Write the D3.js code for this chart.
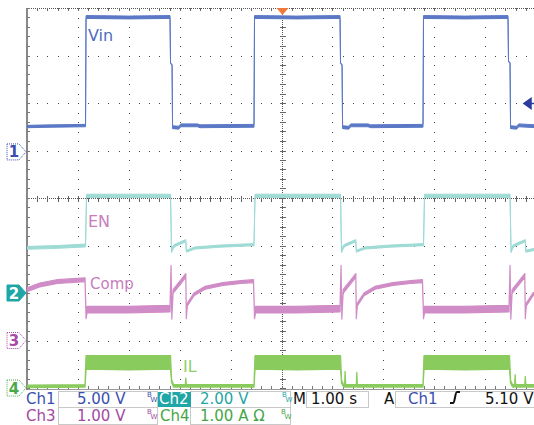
<!DOCTYPE html>
<html>
<head>
<meta charset="utf-8">
<script src="https://cdn.jsdelivr.net/npm/d3@7"></script>
<style>
body { margin: 0; background: #fff; }
svg { display: block; font-family: "DejaVu Sans", Verdana, sans-serif; }
</style>
</head>
<body>
<div id="scope"></div>
<script>
// channel setup: volts/div and ground offset (divisions from centre)
const channelNames = ["Ch1", "Ch2", "Ch3", "Ch4"];
const voltsPerDiv = [5, 2, 1, 1];
const groundDiv = [0.97, -2, -3, -4];
const traceNames = ["Vin", "EN", "Comp", "IL"];

// traces: [time s, low, high] (noise band)
const vinTrace = [
    [0.00, 2.55, 2.80], [0.50, 2.60, 2.85], [1.15, 2.65, 2.90], [1.16, 14.05, 14.35],
    [2.00, 14.00, 14.30], [2.81, 14.05, 14.35], [2.82, 9.30, 9.40], [2.85, 9.10, 9.20],
    [2.86, 2.45, 2.75], [2.98, 2.40, 2.70], [3.02, 2.65, 2.95], [3.35, 2.65, 2.95],
    [3.40, 2.55, 2.85], [4.46, 2.60, 2.90], [4.47, 14.05, 14.35], [5.30, 14.00, 14.30],
    [6.15, 14.05, 14.35], [6.16, 9.30, 9.40], [6.19, 9.10, 9.20], [6.20, 2.45, 2.75],
    [6.32, 2.40, 2.70], [6.36, 2.65, 2.95], [6.70, 2.65, 2.95], [6.75, 2.55, 2.85],
    [7.78, 2.60, 2.90], [7.79, 14.05, 14.35], [8.60, 14.00, 14.30], [9.45, 14.05, 14.35],
    [9.46, 9.50, 9.60], [9.49, 9.30, 9.40], [9.50, 2.45, 2.75], [9.62, 2.40, 2.70],
    [9.66, 2.65, 2.95], [10.00, 2.55, 2.85]
];
const enTrace = [
    [0.00, 1.84, 1.96], [0.60, 1.88, 2.00], [1.15, 1.94, 2.06], [1.17, 4.02, 4.16],
    [2.82, 4.02, 4.16], [2.84, 1.70, 1.76], [2.87, 1.86, 2.00], [2.90, 1.95, 2.05],
    [3.12, 2.16, 2.25], [3.13, 1.72, 1.80], [3.30, 1.85, 1.94], [3.80, 1.93, 2.02],
    [4.46, 1.99, 2.08], [4.48, 4.02, 4.16], [6.16, 4.02, 4.16], [6.18, 1.70, 1.76],
    [6.21, 1.86, 2.00], [6.24, 1.95, 2.05], [6.46, 2.16, 2.25], [6.47, 1.72, 1.80],
    [6.64, 1.85, 1.94], [7.14, 1.93, 2.02], [7.79, 1.99, 2.08], [7.81, 4.02, 4.16],
    [9.49, 4.02, 4.16], [9.51, 1.70, 1.76], [9.54, 1.86, 2.00], [9.57, 1.95, 2.05],
    [9.79, 2.16, 2.25], [9.80, 1.72, 1.80], [10.00, 1.80, 1.90]
];
const compTrace = [
    [0.00, 1.03, 1.11], [0.25, 1.13, 1.21], [0.60, 1.20, 1.28], [1.14, 1.24, 1.32],
    [1.16, 0.46, 0.54], [1.18, 0.58, 0.72], [2.00, 0.58, 0.72], [2.81, 0.60, 0.74],
    [2.83, 1.48, 1.58], [2.845, 0.45, 0.52], [2.87, 0.99, 1.07], [3.12, 1.33, 1.41],
    [3.13, 0.46, 0.52], [3.15, 0.73, 0.79], [3.28, 0.94, 1.00], [3.50, 1.08, 1.14],
    [3.85, 1.16, 1.22], [4.20, 1.20, 1.26], [4.45, 1.22, 1.28], [4.47, 0.46, 0.54],
    [4.49, 0.58, 0.72], [5.30, 0.58, 0.72], [6.15, 0.60, 0.74], [6.17, 1.48, 1.58],
    [6.185, 0.45, 0.52], [6.21, 0.99, 1.07], [6.46, 1.33, 1.41], [6.47, 0.46, 0.52],
    [6.49, 0.73, 0.79], [6.62, 0.94, 1.00], [6.84, 1.08, 1.14], [7.19, 1.16, 1.22],
    [7.54, 1.20, 1.26], [7.77, 1.22, 1.28], [7.79, 0.46, 0.54], [7.81, 0.58, 0.72],
    [8.60, 0.58, 0.72], [9.47, 0.60, 0.74], [9.49, 1.48, 1.58], [9.505, 0.45, 0.52],
    [9.53, 0.99, 1.07], [9.78, 1.33, 1.41], [9.79, 0.46, 0.52], [9.81, 0.73, 0.79],
    [9.94, 0.94, 1.00], [10.00, 0.99, 1.05]
];
const ilTrace = [
    [0.00, 0.01, 0.06], [1.14, 0.02, 0.07], [1.16, 0.40, 0.68], [2.00, 0.38, 0.68],
    [2.82, 0.40, 0.68], [2.84, 0.12, 0.18], [2.88, 0.02, 0.07], [3.11, 0.02, 0.07],
    [3.12, 0.19, 0.21], [3.13, 0.02, 0.07], [4.46, 0.02, 0.07], [4.48, 0.40, 0.68],
    [5.30, 0.38, 0.68], [6.16, 0.40, 0.68], [6.18, 0.10, 0.16], [6.22, 0.02, 0.07],
    [6.24, 0.02, 0.07], [6.25, 0.33, 0.35], [6.26, 0.02, 0.07], [6.47, 0.02, 0.07],
    [6.48, 0.31, 0.33], [6.49, 0.02, 0.07], [7.78, 0.02, 0.07], [7.80, 0.40, 0.68],
    [8.60, 0.38, 0.68], [9.48, 0.40, 0.68], [9.50, 0.10, 0.16], [9.54, 0.02, 0.07],
    [9.58, 0.02, 0.07], [9.59, 0.26, 0.28], [9.60, 0.02, 0.07], [9.78, 0.02, 0.07],
    [9.79, 0.22, 0.24], [9.80, 0.02, 0.07], [10.00, 0.02, 0.07]
];

const timePerDiv = "1.00 s";
const triggerSource = "Ch1";
const triggerLevel = 5.10;

const W = 534, H = 425;
const gLeft = 27, gRight = 536, gTop = 8, gBottom = 388;

const svg = d3.select("#scope").append("svg")
    .attr("width", W)
    .attr("height", H);

const x = d3.scaleLinear().domain([0, 10]).range([gLeft, gRight]);
const yDiv = d3.scaleLinear().domain([-4, 4]).range([gBottom, gTop]);

function chanScale(i) {
    const v = voltsPerDiv[i], g = groundDiv[i];
    return d3.scaleLinear().domain([(-4 - g) * v, (4 - g) * v]).range([gBottom, gTop]);
}

// ---- graticule ----
const grid = svg.append("g").attr("shape-rendering", "crispEdges");
const minorX = d3.range(0, 10.001, 0.2);
const minorY = d3.range(-4, 4.001, 0.2);

// dotted division lines
grid.selectAll(".hg").data(d3.range(-3, 4).filter(d => d !== 0)).enter()
    .append("line")
    .attr("x1", gLeft).attr("x2", gRight)
    .attr("y1", d => Math.round(yDiv(d)) + 0.5).attr("y2", d => Math.round(yDiv(d)) + 0.5)
    .attr("stroke", "#444").attr("stroke-dasharray", "1 9.18");
grid.selectAll(".vg").data(d3.range(1, 10).filter(d => d !== 5)).enter()
    .append("line")
    .attr("x1", d => Math.round(x(d)) + 0.5).attr("x2", d => Math.round(x(d)) + 0.5)
    .attr("y1", gTop).attr("y2", gBottom)
    .attr("stroke", "#444").attr("stroke-dasharray", "1 8.5");

// centre lines with minor ticks
const cy = Math.round(yDiv(0)) + 0.5, cx = Math.round(x(5)) + 0.5;
grid.append("line").attr("x1", gLeft).attr("x2", gRight).attr("y1", cy).attr("y2", cy)
    .attr("stroke", "#555").attr("stroke-dasharray", "1 1");
grid.append("line").attr("x1", cx).attr("x2", cx).attr("y1", gTop).attr("y2", gBottom)
    .attr("stroke", "#555").attr("stroke-dasharray", "1 1");
grid.selectAll(".ct").data(minorX).enter().append("line")
    .attr("x1", d => Math.round(x(d)) + 0.5).attr("x2", d => Math.round(x(d)) + 0.5)
    .attr("y1", cy - 3).attr("y2", cy + 3).attr("stroke", "#666");
grid.selectAll(".cvt").data(minorY).enter().append("line")
    .attr("x1", cx - 3).attr("x2", cx + 3)
    .attr("y1", d => Math.round(yDiv(d)) + 0.5).attr("y2", d => Math.round(yDiv(d)) + 0.5)
    .attr("stroke", "#666");

// frame: top, bottom, left
grid.append("line").attr("x1", gLeft).attr("x2", gRight).attr("y1", gTop + 0.5).attr("y2", gTop + 0.5)
    .attr("stroke", "#555").attr("stroke-dasharray", "1 1");
grid.selectAll(".tt").data(minorX).enter().append("line")
    .attr("x1", d => Math.round(x(d)) + 0.5).attr("x2", d => Math.round(x(d)) + 0.5)
    .attr("y1", gTop).attr("y2", gTop + 3).attr("stroke", "#666");
grid.append("line").attr("x1", gLeft).attr("x2", gRight).attr("y1", gBottom + 1.5).attr("y2", gBottom + 1.5)
    .attr("stroke", "#999");
grid.selectAll(".bt").data(minorX).enter().append("line")
    .attr("x1", d => Math.round(x(d)) + 0.5).attr("x2", d => Math.round(x(d)) + 0.5)
    .attr("y1", gBottom - 2).attr("y2", gBottom + 1).attr("stroke", "#777");
grid.append("line").attr("x1", gLeft - 0.5).attr("x2", gLeft - 0.5).attr("y1", gTop).attr("y2", gBottom + 2)
    .attr("stroke", "#888").attr("stroke-width", 2);
grid.selectAll(".lt").data(minorY).enter().append("line")
    .attr("x1", gLeft).attr("x2", gLeft + 3)
    .attr("y1", d => Math.round(yDiv(d)) + 0.5).attr("y2", d => Math.round(yDiv(d)) + 0.5)
    .attr("stroke", "#777");

// ---- traces ----
svg.append("clipPath").attr("id", "plot")
    .append("rect").attr("x", gLeft).attr("y", gTop).attr("width", W - gLeft).attr("height", gBottom - gTop + 2);

const traces = [vinTrace, enTrace, compTrace, ilTrace];
const traceColors = ["#5a78c6", "#9edbd5", "#d08cc6", "#8acb5e"];
const traceWidths = [1, 1, 1.2, 1.3];
const traceG = svg.append("g").attr("clip-path", "url(#plot)");

traces.forEach((data, i) => {
    const y = chanScale(i);
    const band = d3.area()
        .x(d => x(d[0]))
        .y0(d => y(d[1]))
        .y1(d => y(d[2]));
    traceG.append("path")
        .datum(data)
        .attr("d", band)
        .attr("fill", traceColors[i])
        .attr("stroke", traceColors[i])
        .attr("stroke-width", traceWidths[i])
        .attr("stroke-linejoin", "round");
});

// trace labels
const labelColors = ["#4f6cc0", "#c87dbd", "#c87dbd", "#8ccf68"];
const labelPos = [[88, 41], [88, 227], [90, 289], [183, 372]];
traceNames.forEach((n, i) => {
    svg.append("text")
        .attr("x", labelPos[i][0]).attr("y", labelPos[i][1])
        .attr("font-size", i === 2 ? 15 : 16)
        .attr("fill", labelColors[i])
        .text(n);
});

// trigger markers
const trigY = chanScale(0)(triggerLevel);
svg.append("path")
    .attr("d", `M${W - 10},${trigY} l7,-5 v10 z M${W - 4},${trigY} H${W}`)
    .attr("fill", "#2c3d9c").attr("stroke", "#2c3d9c").attr("stroke-width", 1.5);
svg.append("path")
    .attr("d", `M${cx - 6},${gTop} h12 l-6,7 z`)
    .attr("fill", "#f07a3a");

// channel ground markers
const markerColors = ["#3a4fae", "#1fa6a6", "#a64aa6", "#4aa84a"];
groundDiv.forEach((g, i) => {
    const yy = yDiv(g);
    const filled = i === 1;
    svg.append("path")
        .attr("d", `M7,${yy - 8} H19 L26,${yy} L19,${yy + 8} H7 Z`)
        .attr("fill", filled ? markerColors[i] : "#fff")
        .attr("stroke", markerColors[i])
        .attr("stroke-width", 1)
        .attr("stroke-dasharray", filled ? null : "1 1");
    svg.append("text")
        .attr("x", 14).attr("y", yy + 5.5)
        .attr("text-anchor", "middle")
        .attr("font-size", 15).attr("font-weight", "bold")
        .attr("fill", filled ? "#fff" : markerColors[i])
        .text(i + 1);
});

// ---- status bar ----
const status = svg.append("g");
const statusColors = ["#3a4fae", "#1fa6a6", "#a24aa2", "#46a646"];
const rows = [399, 416];
const fs = 15;
const boxStroke = "#c9c9c9";

function box(x0, y0, w, h) {
    status.append("rect").attr("x", x0 + 0.5).attr("y", y0 + 0.5).attr("width", w).attr("height", h)
        .attr("fill", "none").attr("stroke", boxStroke);
}
function bw(x0, yBase, col) {
    status.append("text").attr("x", x0).attr("y", yBase - 7).attr("font-size", 7).attr("fill", col).text("B");
    status.append("text").attr("x", x0 + 3.5).attr("y", yBase - 2).attr("font-size", 7).attr("fill", col).text("W");
}

box(58, 391, 99, 16);
box(58, 407, 99, 17);
box(190, 391, 100, 16);
box(190, 407, 100, 17);
box(306, 391, 62, 16);
box(395, 391, 140, 16);

[0, 2].forEach((ch, r) => {
    const yb = rows[r] + 5;
    status.append("text").attr("x", 26).attr("y", yb).attr("font-size", fs)
        .attr("fill", statusColors[ch]).text(channelNames[ch]);
    status.append("text").attr("x", 77).attr("y", yb).attr("font-size", fs)
        .attr("fill", statusColors[ch]).text(voltsPerDiv[ch].toFixed(2) + " V");
    bw(147, yb, statusColors[ch]);
});

// Ch2 highlighted
status.append("rect").attr("x", 158).attr("y", 392).attr("width", 33).attr("height", 15)
    .attr("fill", statusColors[1]);
status.append("text").attr("x", 159).attr("y", rows[0] + 5).attr("font-size", fs)
    .attr("fill", "#fff").text(channelNames[1]);
status.append("text").attr("x", 200).attr("y", rows[0] + 5).attr("font-size", fs)
    .attr("fill", statusColors[1]).text(voltsPerDiv[1].toFixed(2) + " V");
bw(282, rows[0] + 5, statusColors[1]);

status.append("text").attr("x", 160).attr("y", rows[1] + 5).attr("font-size", fs)
    .attr("fill", statusColors[3]).text(channelNames[3]);
status.append("text").attr("x", 200).attr("y", rows[1] + 5).attr("font-size", fs)
    .attr("fill", statusColors[3]).text(voltsPerDiv[3].toFixed(2) + " A Ω");
bw(281, rows[1] + 5, statusColors[3]);

// timebase + trigger
status.append("text").attr("x", 293).attr("y", rows[0] + 5).attr("font-size", fs)
    .attr("fill", "#111").text("M");
status.append("text").attr("x", 311).attr("y", rows[0] + 5).attr("font-size", fs)
    .attr("fill", "#111").text(timePerDiv);
status.append("text").attr("x", 384).attr("y", rows[0] + 5).attr("font-size", fs)
    .attr("fill", "#111").text("A");
status.append("text").attr("x", 408).attr("y", rows[0] + 5).attr("font-size", fs)
    .attr("fill", statusColors[0]).text(triggerSource);
status.append("path")
    .attr("d", "M450,403 h3 c2,0 2,-11 4,-11 h3")
    .attr("fill", "none").attr("stroke", "#111").attr("stroke-width", 2);
status.append("text").attr("x", 485).attr("y", rows[0] + 5).attr("font-size", fs)
    .attr("fill", "#111").text(triggerLevel.toFixed(2) + " V");
</script>
</body>
</html>
